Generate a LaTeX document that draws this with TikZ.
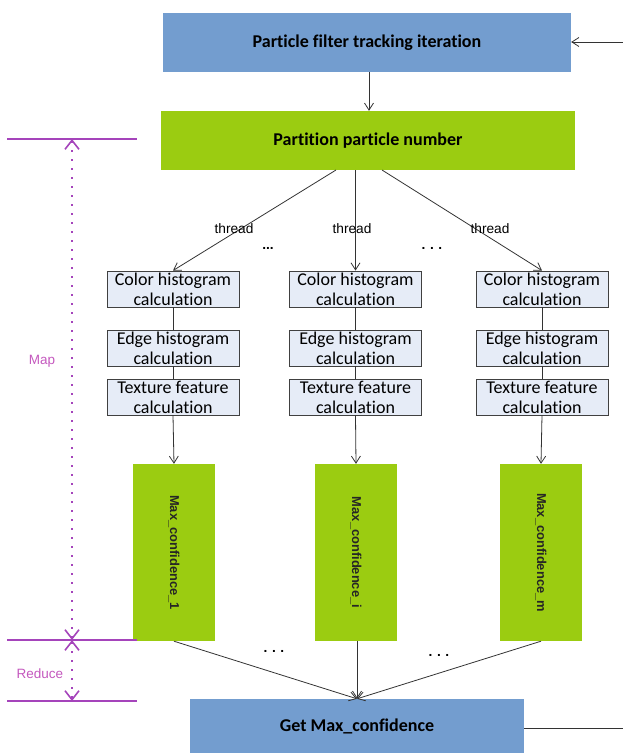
\documentclass[tikz,border=0pt]{standalone}
\usepackage{fontspec}
\setmainfont{Carlito}[Ligatures={NoCommon}]
\newfontfamily\arialfont{Liberation Sans}
\usetikzlibrary{arrows.meta}

\definecolor{stepblue}{RGB}{115,157,207}
\definecolor{stepgreen}{RGB}{155,204,17}
\definecolor{calcfill}{RGB}{230,236,247}
\definecolor{mapline}{RGB}{165,68,187}
\definecolor{maptext}{RGB}{196,88,190}

\tikzset{
    bluebox/.style={fill=stepblue, inner sep=0pt, font=\bfseries\fontsize{18}{20}\selectfont},
    greenbox/.style={fill=stepgreen, inner sep=0pt, font=\bfseries\fontsize{18}{20}\selectfont},
    calcbox/.style={draw=black!75, line width=0.9pt, fill=calcfill, minimum width=132pt, minimum height=36pt,
        inner sep=0pt, align=center, font=\fontsize{18}{20}\selectfont},
    maxbox/.style={fill=stepgreen, minimum width=82pt, minimum height=177pt, inner sep=0pt},
    maxtext/.style={rotate=-90, inner sep=0pt, text=black!85, font=\arialfont\bfseries\fontsize{12.9}{15}\selectfont},
    small/.style={inner sep=0pt, font=\arialfont\fontsize{13.7}{16}\selectfont},
    dots/.style={inner sep=0pt, font=\arialfont\bfseries\fontsize{13.7}{16}\selectfont},
    conn/.style={draw=black!80, line width=0.8pt},
    arr/.style={conn, -{Straight Barb[length=7pt,width=9pt]}},
    bracket/.style={draw=mapline, line width=1.6pt},
    bracketarr/.style={draw=mapline, line width=1.6pt, dash pattern=on 1.8pt off 7.2pt,
        {Straight Barb[length=9pt,width=14pt]}-{Straight Barb[length=9pt,width=14pt]}},
    maplabel/.style={text=maptext, inner sep=0pt, font=\arialfont\fontsize{13.5}{16}\selectfont}
}

\begin{document}
\begin{tikzpicture}[x=1pt, y=-1pt]
    \useasboundingbox (0,0) rectangle (623,753);

    % top of the loop
    \node[bluebox, minimum width=408pt, minimum height=59pt] (iter) at (367,42.5) {Particle filter tracking iteration};
    \coordinate (loopin) at (623,42);
    \draw[arr] (loopin) -- (iter.east |- loopin);

    \node[greenbox, minimum width=414pt, minimum height=59pt] (part) at (368,140.5) {Partition particle number};
    \draw[arr] (iter.south -| 369,0) -- (part.north -| 369,0);

    % three threads
    \foreach \name/\x in {a/173, i/355.5, m/542} {
        \node[calcbox] (color\name) at (\x,289) {Color histogram\\calculation};
        \node[calcbox] (edge\name) at (\x,348) {Edge histogram\\calculation};
        \node[calcbox] (tex\name) at (\x,397) {Texture feature\\calculation};
        \draw[conn] (color\name) -- (edge\name);
        \draw[conn] (edge\name) -- (tex\name);
    }

    \coordinate (splita) at (336,170);
    \coordinate (spliti) at (355.5,170);
    \coordinate (splitm) at (382,170);
    \draw[arr] (splita) -- (colora.north);
    \draw[arr] (spliti) -- (colori.north);
    \draw[arr] (splitm) -- (colorm.north);

    \node[small] (threada) at (234,229) {thread};
    \node[small] (threadi) at (352,229) {thread};
    \node[small] (threadm) at (490,229) {thread};
    \node[dots] (dotsa) at (268,248) {...};
    \node[dots] (dotsb) at (432,248) {.\,\,.\,\,.};

    % partial results
    \node[maxbox] (maxa) at (174,552.5) {};
    \node[maxbox] (maxi) at (356,552.5) {};
    \node[maxbox] (maxm) at (541,552.5) {};
    \node[maxtext] (maxat) at (maxa) {Max\_confidence\_1};
    \node[maxtext] (maxit) at (maxi) {Max\_confidence\_i};
    \node[maxtext] (maxmt) at (maxm) {Max\_confidence\_m};
    \draw[arr] (texa.south) -- (maxa.north);
    \draw[arr] (texi.south) -- (maxi.north);
    \draw[arr] (texm.south) -- (maxm.north);

    % reduce step
    \node[bluebox, minimum width=334pt, minimum height=54pt] (get) at (357,726) {Get Max\_confidence};
    \draw[arr] (maxa.south) -- (get.north);
    \draw[arr] (maxi.south -| get.north) -- (get.north);
    \draw[arr] (maxm.south) -- (get.north);
    \node[dots] (dotsc) at (274,651) {.\,\,.\,\,.};
    \node[dots] (dotsd) at (439,655) {.\,\,.\,\,.};

    \coordinate (loopout) at (623,728);
    \draw[conn] (get.east |- loopout) -- (loopout);

    % map / reduce bracket
    \coordinate (mtopl) at (7,139);   \coordinate (mtopr) at (137,139);
    \coordinate (mmidl) at (7,640);   \coordinate (mmidr) at (137,640);
    \coordinate (mbotl) at (7,701);   \coordinate (mbotr) at (137,701);
    \draw[bracket] (mtopl) -- (mtopr);
    \draw[bracket] (mmidl) -- (mmidr);
    \draw[bracket] (mbotl) -- (mbotr);
    \draw[bracketarr] (72,139) -- (72,640);
    \draw[bracketarr] (72,640) -- (72,701);
    \node[maplabel] (maplab) at (42,361) {Map};
    \node[maplabel] (redlab) at (40,674) {Reduce};
\end{tikzpicture}
\end{document}
